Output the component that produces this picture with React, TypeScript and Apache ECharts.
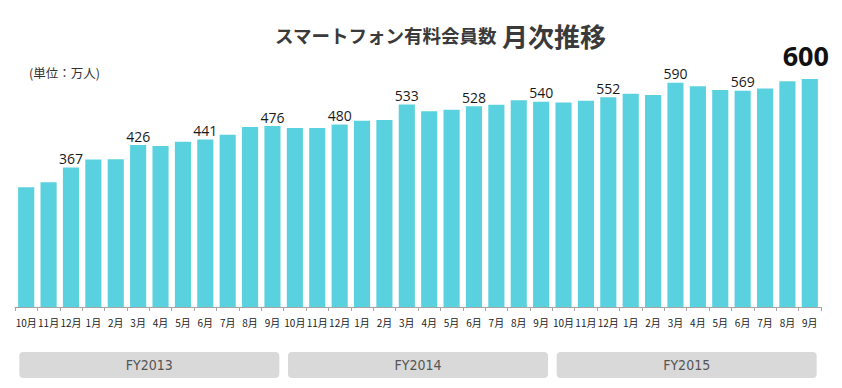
import React, { useEffect, useRef } from "react";
import * as echarts from "echarts";

const months = [
  "10月", "11月", "12月", "1月", "2月", "3月", "4月", "5月", "6月", "7月", "8月", "9月",
  "10月", "11月", "12月", "1月", "2月", "3月", "4月", "5月", "6月", "7月", "8月", "9月",
  "10月", "11月", "12月", "1月", "2月", "3月", "4月", "5月", "6月", "7月", "8月", "9月",
];
const members = [
  315, 328, 367, 388, 389, 426, 424, 435, 441, 453, 474, 476,
  471, 471, 480, 490, 492, 533, 515, 519, 528, 532, 544, 540,
  538, 543, 552, 561, 558, 590, 581, 571, 569, 575, 594, 600,
];
const labeledIndices = [2, 5, 8, 11, 14, 17, 20, 23, 26, 29, 32];
const highlightIndex = 35;
const fiscalYears = ["FY2013", "FY2014", "FY2015"];

export default function App() {
  const ref = useRef<HTMLDivElement>(null);
  useEffect(() => {
    if (!ref.current) return;
    const chart = echarts.init(ref.current, null, { renderer: "svg" });
    const data = members.map((v, i) => {
      if (i === highlightIndex) {
        return {
          value: v,
          label: {
            show: true,
            position: "top",
            distance: 10,
            offset: [-4, 0],
            fontSize: 27,
            fontWeight: "bold",
            color: "#111",
            fontFamily: "Open Sans",
          },
        };
      }
      if (labeledIndices.includes(i)) {
        return {
          value: v,
          label: {
            show: true,
            position: "top",
            distance: 2,
            fontSize: 14,
            color: "#1a1a1a",
            fontFamily: "Open Sans",
          },
        };
      }
      return { value: v };
    });
    chart.setOption({
      animation: false,
      backgroundColor: "#ffffff",
      title: [
        {
          text: "{a|スマートフォン有料会員数} {b|月次推移}",
          left: 270,
          top: 17,
          textStyle: {
            rich: {
              a: {
                fontSize: 18.5,
                fontWeight: "bold",
                color: "#3a3a3a",
                fontFamily: "Noto Sans CJK JP",
              },
              b: {
                fontSize: 26,
                fontWeight: "bold",
                color: "#3a3a3a",
                fontFamily: "Noto Sans CJK JP",
              },
            },
          },
        },
        {
          text: "(単位：万人)",
          left: 24,
          top: 61,
          textStyle: {
            fontSize: 12.5,
            fontWeight: "normal",
            color: "#333",
            fontFamily: "Noto Sans CJK JP",
          },
        },
      ],
      grid: { left: 15, right: 21, top: 41, bottom: 81 },
      xAxis: [
        {
          type: "category",
          data: months,
          axisLine: { show: true, lineStyle: { color: "#a6a6a6" } },
          axisTick: { show: true, length: 4, lineStyle: { color: "#a6a6a6" } },
          axisLabel: {
            interval: 0,
            fontSize: 10,
            color: "#222",
            margin: 10,
            fontFamily: "Noto Sans CJK JP",
          },
        },
        {
          type: "category",
          data: fiscalYears,
          position: "bottom",
          axisLine: { show: false },
          axisTick: { show: false },
          axisLabel: {
            interval: 0,
            margin: 45,
            width: 260,
            height: 26,
            lineHeight: 26,
            align: "center",
            backgroundColor: "#d9d9d9",
            borderRadius: 4,
            color: "#555",
            fontSize: 14,
            fontFamily: "DejaVu Sans Condensed",
          },
        },
      ],
      yAxis: {
        type: "value",
        min: 0,
        max: 700,
        show: false,
        splitLine: { show: false },
      },
      series: [
        {
          type: "bar",
          xAxisIndex: 0,
          data,
          barCategoryGap: "28%",
          itemStyle: { color: "#5ad1de" },
        },
      ],
    });
    return () => chart.dispose();
  }, []);
  return (
    <div
      ref={ref}
      style={{ position: "fixed", left: 0, top: 0, width: 842, height: 388 }}
    />
  );
}
